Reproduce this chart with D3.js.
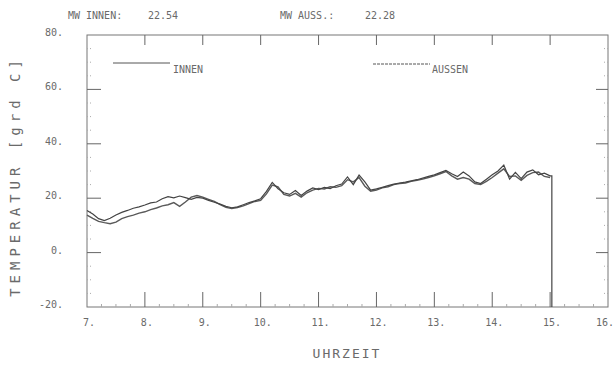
<!DOCTYPE html>
<html>
<head>
<meta charset="utf-8">
<script src="https://cdn.jsdelivr.net/npm/d3@7"></script>
<style>
  body { margin: 0; background: #fff; }
  text { font-family: "DejaVu Sans Mono", monospace; fill: #6a6a6a; }
</style>
</head>
<body>
<div id="chart"></div>
<script>
// Temperaturverlauf innen / aussen, Messschrieb 7 - 15 Uhr

const hours = [7.0,7.1,7.2,7.3,7.4,7.5,7.6,7.7,7.8,7.9,
  8.0,8.1,8.2,8.3,8.4,8.5,8.6,8.7,8.8,8.9,
  9.0,9.1,9.2,9.3,9.4,9.5,9.6,9.7,9.8,9.9,
  10.0,10.1,10.2,10.3,10.4,10.5,10.6,10.7,10.8,10.9,
  11.0,11.1,11.2,11.3,11.4,11.5,11.6,11.7,11.8,11.9,
  12.0,12.1,12.2,12.3,12.4,12.5,12.6,12.7,12.8,12.9,
  13.0,13.1,13.2,13.3,13.4,13.5,13.6,13.7,13.8,13.9,
  14.0,14.1,14.2,14.3,14.4,14.5,14.6,14.7,14.8,14.9,15.0];

const innen = [15.5,14.2,12.5,11.8,12.6,13.8,14.8,15.5,16.3,16.8,
  17.5,18.3,18.6,19.8,20.6,20.1,20.8,20.2,19.6,20.3,
  20.0,19.2,18.5,17.8,17.0,16.5,16.8,17.6,18.4,19.0,
  19.8,22.5,25.8,23.5,22.0,21.4,22.8,21.0,22.6,23.8,
  23.2,24.0,23.5,24.6,25.2,27.8,25.0,28.5,26.0,23.0,
  23.4,24.0,24.6,25.2,25.6,25.9,26.4,26.8,27.4,28.0,
  28.6,29.4,30.2,29.0,28.0,29.6,28.2,26.0,25.4,27.0,
  28.6,30.0,32.2,27.0,29.5,27.2,29.6,30.4,28.6,29.2,28.2];

const aussen = [13.8,12.6,11.5,11.0,10.6,11.2,12.5,13.2,13.8,14.5,
  15.0,15.8,16.4,17.2,17.6,18.4,17.0,18.6,20.4,21.0,
  20.4,19.6,18.8,17.6,16.6,16.2,16.6,17.2,18.0,18.8,
  19.2,21.6,24.8,24.2,21.4,20.8,21.8,20.4,22.0,23.0,
  23.6,23.4,24.2,24.0,24.6,26.8,26.0,27.6,24.4,22.6,
  23.0,23.8,24.2,25.0,25.4,25.6,26.2,26.6,27.0,27.6,
  28.2,29.0,29.8,28.2,27.0,27.6,27.0,25.4,25.0,26.2,
  27.6,29.2,30.8,28.0,28.2,26.6,28.4,29.4,29.6,28.0,27.6];

// Schreiber faellt am Ende auf den Anschlag
const endHour = 15.03;
const endValue = -20;

const xTicks = [7,8,9,10,11,12,13,14,15,16];
const yTicks = [-20,0,20,40,60,80];
const meanInnen = "22.54";
const meanAussen = "22.28";

const width = 616, height = 365;
const margin = { top: 35, right: 8, bottom: 58, left: 87 };

const svg = d3.select("#chart")
  .append("svg")
  .attr("width", width)
  .attr("height", height);

const x = d3.scaleLinear().domain([7, 16]).range([margin.left, width - margin.right]);
const y = d3.scaleLinear().domain([-20, 80]).range([height - margin.bottom, margin.top]);

const x0 = x.range()[0], x1 = x.range()[1];
const y0 = y.range()[0], y1 = y.range()[1];

// frame
svg.append("rect")
  .attr("x", x0).attr("y", y1)
  .attr("width", x1 - x0).attr("height", y0 - y1)
  .attr("fill", "none")
  .attr("stroke", "#777")
  .attr("stroke-width", 1);

const tickStyle = sel => sel.attr("stroke", "#666").attr("stroke-width", 1);

// hour ticks top and bottom
const hourMinor = d3.range(7.25, 16, 0.25).filter(h => h % 1 !== 0);
svg.append("g").selectAll("line").data(xTicks.slice(1, -1)).join("line")
  .attr("x1", d => x(d)).attr("x2", d => x(d))
  .attr("y1", y0).attr("y2", y0 - 15).call(tickStyle);
svg.append("g").selectAll("line").data(xTicks.slice(1, -1)).join("line")
  .attr("x1", d => x(d)).attr("x2", d => x(d))
  .attr("y1", y1).attr("y2", y1 + 10).call(tickStyle);
svg.append("g").selectAll("line").data(hourMinor).join("line")
  .attr("x1", d => x(d)).attr("x2", d => x(d))
  .attr("y1", y0).attr("y2", y0 - 3)
  .attr("stroke", "#aaa");

// temperature ticks left and right
const tempMinor = d3.range(-15, 80, 5).filter(t => t % 20 !== 0);
svg.append("g").selectAll("line").data(yTicks.slice(1, -1)).join("line")
  .attr("x1", x0).attr("x2", x0 + 14)
  .attr("y1", d => y(d)).attr("y2", d => y(d)).call(tickStyle);
svg.append("g").selectAll("line").data(yTicks.slice(1, -1)).join("line")
  .attr("x1", x1).attr("x2", x1 - 12)
  .attr("y1", d => y(d)).attr("y2", d => y(d)).call(tickStyle);
svg.append("g").selectAll("line").data(tempMinor).join("line")
  .attr("x1", x0).attr("x2", x0 + 5)
  .attr("y1", d => y(d)).attr("y2", d => y(d))
  .attr("stroke", "#aaa").attr("stroke-dasharray", "1,2");
svg.append("g").selectAll("line").data(tempMinor).join("line")
  .attr("x1", x1).attr("x2", x1 - 4)
  .attr("y1", d => y(d)).attr("y2", d => y(d))
  .attr("stroke", "#aaa").attr("stroke-dasharray", "1,2");

// tick labels (last one kept inside the page)
svg.append("g").selectAll("text").data(xTicks).join("text")
  .attr("x", d => d === 16 ? x(d) + 6 : x(d) + 2).attr("y", y0 + 19)
  .attr("text-anchor", d => d === 16 ? "end" : "middle")
  .attr("font-size", 10)
  .text(d => d + ".");
svg.append("g").selectAll("text").data(yTicks).join("text")
  .attr("x", x0 - 24).attr("y", d => y(d) + 1)
  .attr("text-anchor", "end")
  .attr("font-size", 10)
  .text(d => d + ".");

// header
svg.append("text").attr("x", 68).attr("y", 19).attr("font-size", 10).text("MW INNEN:");
svg.append("text").attr("x", 148).attr("y", 19).attr("font-size", 10).text(meanInnen);
svg.append("text").attr("x", 280).attr("y", 19).attr("font-size", 10).text("MW AUSS.:");
svg.append("text").attr("x", 365).attr("y", 19).attr("font-size", 10).text(meanAussen);

// axis titles
svg.append("text")
  .attr("transform", "translate(20,176) rotate(-90)")
  .attr("text-anchor", "middle")
  .attr("font-size", 14)
  .attr("letter-spacing", 5)
  .text("TEMPERATUR [grd C]");
svg.append("text")
  .attr("x", 347).attr("y", 358)
  .attr("text-anchor", "middle")
  .attr("font-size", 13)
  .attr("letter-spacing", 2)
  .text("UHRZEIT");

// curves
const line = d3.line().x(d => x(d[0])).y(d => y(d[1]));
const innenPts = hours.map((h, i) => [h, innen[i]])
  .concat([[endHour, innen[innen.length - 1]], [endHour, endValue]]);
const aussenPts = hours.map((h, i) => [h, aussen[i]]);

svg.append("path").datum(aussenPts)
  .attr("d", line).attr("fill", "none")
  .attr("stroke", "#5a5a5a").attr("stroke-width", 1.4);
svg.append("path").datum(innenPts)
  .attr("d", line).attr("fill", "none")
  .attr("stroke", "#444").attr("stroke-width", 1.2);

// legend
svg.append("line").attr("x1", 113).attr("x2", 170).attr("y1", 63).attr("y2", 63)
  .attr("stroke", "#555");
svg.append("text").attr("x", 173).attr("y", 73).attr("font-size", 10).text("INNEN");
svg.append("line").attr("x1", 373).attr("x2", 430).attr("y1", 64).attr("y2", 64)
  .attr("stroke", "#555").attr("stroke-dasharray", "3,1");
svg.append("text").attr("x", 432).attr("y", 73).attr("font-size", 10).text("AUSSEN");
</script>
</body>
</html>
